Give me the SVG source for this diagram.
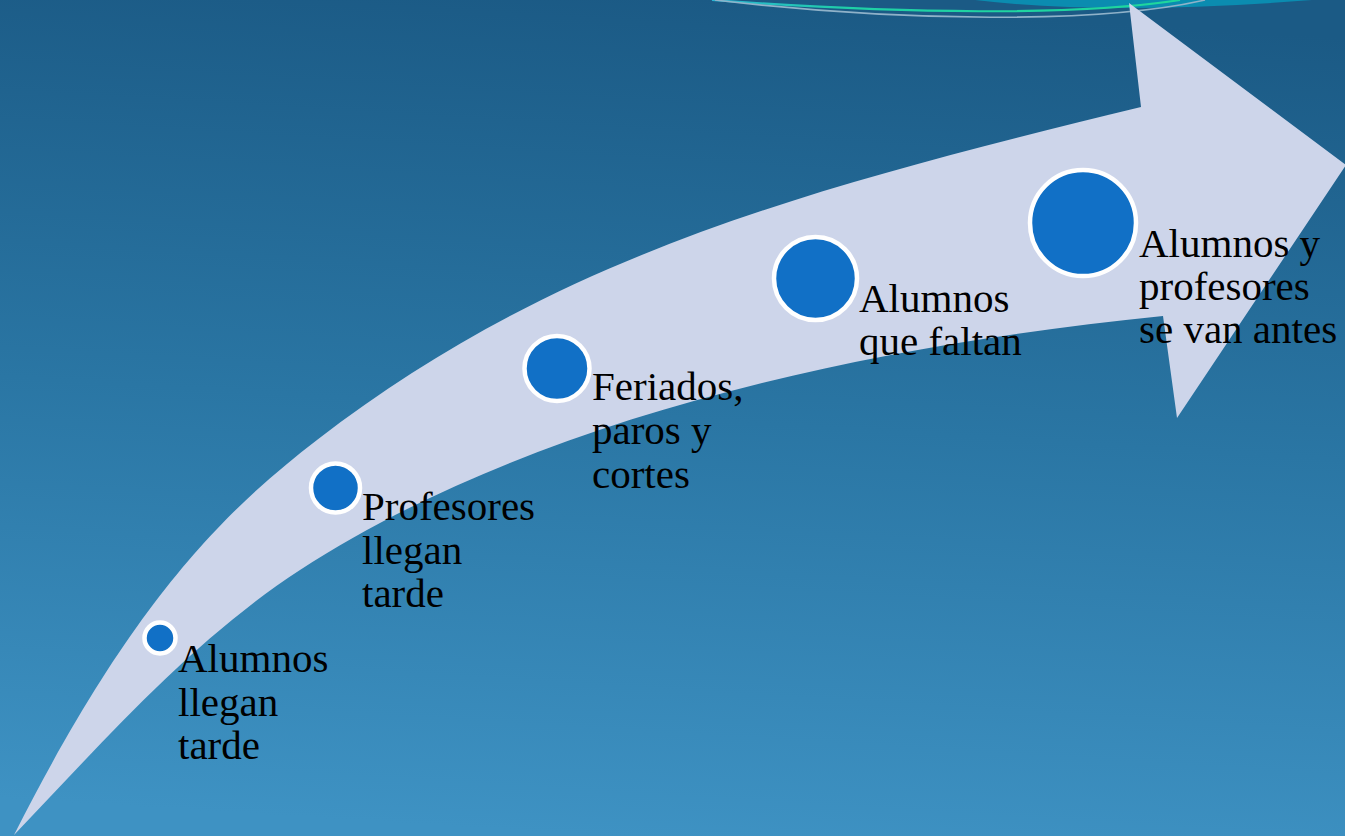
<svg xmlns="http://www.w3.org/2000/svg" width="1345" height="836" viewBox="0 0 1345 836">
  <defs>
    <linearGradient id="bg" x1="0.55" y1="0" x2="0.45" y2="1">
      <stop offset="0" stop-color="#1b5a85"/>
      <stop offset="0.5" stop-color="#2a76a4"/>
      <stop offset="1" stop-color="#3e92c3"/>
    </linearGradient>
    <linearGradient id="gline" x1="0" y1="0" x2="1" y2="0">
      <stop offset="0" stop-color="#2ab4d4"/>
      <stop offset="0.3" stop-color="#1fd0a6"/>
      <stop offset="1" stop-color="#1fd79c"/>
    </linearGradient>
    <style>
      .dot { fill: #1170c6; stroke: #ffffff; stroke-width: 4.5; }
      .lbl { font-family: "Liberation Serif", "DejaVu Serif", serif; font-size: 41px; fill: #000000; }
    </style>
  </defs>

  <rect x="0" y="0" width="1345" height="836" fill="url(#bg)"/>

  <g id="top-decoration">
    <path d="M975,0 Q1110,16 1312,0 Z" fill="#0b8cb0"/>
    <path d="M712,0 C900,14 1080,16 1180,0" fill="none" stroke="url(#gline)" stroke-width="2.2"/>
    <path d="M715,0 C900,22 1100,24 1205,0" fill="none" stroke="#8fb2c9" stroke-width="1.6"/>
  </g>

  <g id="arrow">
    <path d="M14,835 C131,604 222,513 317,440 C554,257 801,190 1141,107 L1129,3 L1346,165 L1177,418 L1163,316 C815,351 509.5,433.75 300,570 C191,641 104,741 14,835 Z" fill="#cdd5ea"/>
  </g>

  <g id="node1">
    <circle class="dot" cx="160" cy="638" r="15.5"/>
    <text class="lbl" x="178" y="672">Alumnos</text>
    <text class="lbl" x="178" y="716">llegan</text>
    <text class="lbl" x="178" y="759">tarde</text>
  </g>
  <g id="node2">
    <circle class="dot" cx="335.5" cy="488" r="24.5"/>
    <text class="lbl" x="362" y="520">Profesores</text>
    <text class="lbl" x="362" y="564">llegan</text>
    <text class="lbl" x="362" y="607">tarde</text>
  </g>
  <g id="node3">
    <circle class="dot" cx="557" cy="368.5" r="32.5"/>
    <text class="lbl" x="592" y="400">Feriados,</text>
    <text class="lbl" x="592" y="444">paros y</text>
    <text class="lbl" x="592" y="488">cortes</text>
  </g>
  <g id="node4">
    <circle class="dot" cx="815.5" cy="278.5" r="41.5"/>
    <text class="lbl" x="859" y="312">Alumnos</text>
    <text class="lbl" x="859" y="355">que faltan</text>
  </g>
  <g id="node5">
    <circle class="dot" cx="1083" cy="223" r="53"/>
    <text class="lbl" x="1139" y="257">Alumnos y</text>
    <text class="lbl" x="1139" y="300">profesores</text>
    <text class="lbl" x="1139" y="343">se van antes</text>
  </g>
</svg>
